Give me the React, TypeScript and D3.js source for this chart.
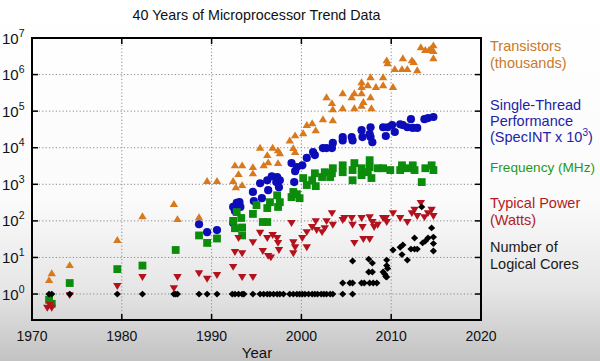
import React from "react";
import * as d3 from "d3";

type Pt = [number, number];

const transistors: Pt[] = [
  [1971.9, 2.4], [1972.2, 3.7], [1974.2, 6.2], [1979.5, 30], [1982.3, 134], [1985.8, 290], [1986.2, 112],
  [1988.6, 126], [1989.5, 1230], [1990.6, 1230], [1992.4, 1230], [1992.7, 830], [1992.6, 3300], [1993.4, 3300],
  [1993.0, 1900], [1993.4, 950], [1994.6, 2950], [1994.6, 2000], [1995.4, 10000], [1995.8, 3300], [1996.2, 6300],
  [1996.3, 4000], [1996.8, 10000], [1997.4, 8500], [1997.4, 3800], [1997.6, 7100], [1998.7, 15800], [1999.1, 9800],
  [1999.3, 21900], [1999.3, 7600], [2000.2, 25000], [2000.6, 42000], [2001.2, 47000], [2001.6, 30000],
  [2002.4, 60000], [2002.8, 240000], [2003.4, 166000], [2003.5, 112000], [2003.5, 56000], [2004.6, 310000],
  [2004.6, 120000], [2005.6, 240000], [2005.9, 310000], [2005.9, 120000], [2006.7, 457000], [2006.7, 617000],
  [2006.7, 310000], [2006.9, 178000], [2006.7, 140000], [2007.7, 850000], [2007.4, 513000], [2007.7, 240000],
  [2007.8, 120000], [2008.3, 457000], [2009.1, 850000], [2009.1, 513000], [2009.5, 2450000], [2009.6, 2040000],
  [2010.2, 457000], [2010.4, 1410000], [2011.2, 1410000], [2011.3, 2800000], [2011.8, 1410000],
  [2012.3, 2450000], [2012.5, 2200000], [2012.9, 1320000], [2013.3, 5600000], [2013.8, 4700000],
  [2014.2, 4700000], [2014.7, 6300000], [2014.7, 4400000], [2014.7, 2800000], [2014.4, 5000000],
];

const performance: Pt[] = [
  [1988.6, 81], [1989.5, 49], [1990.6, 56], [1992.4, 87], [1992.4, 240], [1992.6, 186], [1992.8, 309],
  [1993.1, 324], [1993.2, 240], [1994.6, 617], [1994.7, 347], [1995.6, 417], [1995.4, 1070], [1996.2, 1290],
  [1996.3, 692], [1996.7, 1660], [1997.3, 1580], [1997.6, 1290], [1997.5, 832], [1997.2, 1150], [1998.9, 3800],
  [1999.2, 1150], [1999.3, 2290], [1999.5, 2950], [2000.1, 3310], [2000.6, 5250], [2001.5, 6310], [2001.3, 7590],
  [2002.4, 9770], [2002.8, 9770], [2003.5, 13500], [2003.4, 9770], [2004.6, 19500], [2004.6, 15800],
  [2005.6, 19500], [2005.7, 15800], [2006.7, 30200], [2006.8, 19500], [2007.7, 36300], [2007.7, 19500],
  [2007.9, 14100], [2007.6, 23400], [2009.1, 36300], [2009.4, 20900], [2009.6, 36300], [2010.1, 41700],
  [2010.4, 26900], [2011.0, 43600], [2011.3, 41700], [2011.8, 36300], [2012.2, 60300], [2012.4, 34700],
  [2012.9, 34700], [2013.7, 60300], [2014.1, 64600], [2014.7, 69200],
];

const frequency: Pt[] = [
  [1971.9, 0.7], [1972.2, 0.54], [1974.2, 2], [1979.5, 4.8], [1982.3, 6], [1986.0, 16], [1988.6, 40],
  [1989.5, 25], [1990.6, 33], [1992.4, 100], [1992.6, 63], [1993.4, 66], [1993.4, 40], [1992.8, 174],
  [1993.3, 120], [1994.6, 155], [1995.0, 270], [1995.7, 93], [1996.2, 93], [1996.2, 224], [1996.5, 324],
  [1997.3, 500], [1997.4, 240], [1997.6, 324], [1998.9, 447], [1999.1, 617], [1999.5, 537], [1999.8, 417],
  [2000.2, 1480], [2000.6, 955], [2001.2, 1290], [2001.6, 890], [2001.5, 2000], [2002.3, 1580], [2002.6, 2140],
  [2003.4, 2000], [2003.5, 2750], [2003.2, 1580], [2004.6, 3310], [2004.6, 2140], [2005.7, 2450], [2005.7, 1290],
  [2005.9, 3800], [2006.7, 2750], [2006.7, 1780], [2007.6, 4570], [2007.6, 2950], [2007.8, 1480], [2007.4, 2140],
  [2008.5, 2750], [2009.1, 2750], [2009.9, 2450], [2011.0, 2450], [2011.2, 3310], [2011.8, 2750], [2012.4, 3310],
  [2012.6, 2450], [2013.4, 1150], [2013.8, 2750], [2014.5, 3310], [2014.7, 2450],
];

const power: Pt[] = [
  [1971.7, 0.42], [1972.2, 0.42], [1972.0, 0.5], [1974.2, 0.93], [1979.5, 1.66], [1982.3, 2.9], [1985.8, 1.45],
  [1986.2, 2.9], [1988.6, 3.7], [1989.5, 2.6], [1990.6, 3.3], [1992.4, 5.5], [1992.6, 14], [1993.0, 34],
  [1993.4, 13], [1993.4, 2.9], [1994.6, 2.9], [1994.6, 26], [1995.4, 47], [1995.7, 15], [1996.2, 34],
  [1996.3, 11], [1996.6, 10], [1996.8, 41], [1997.3, 34], [1997.4, 25], [1997.5, 16], [1998.9, 87],
  [1999.1, 26], [1999.3, 19], [1999.1, 13], [2000.1, 34], [2000.6, 49], [2000.6, 19], [2001.2, 68],
  [2001.6, 98], [2001.7, 56], [2002.3, 49], [2002.6, 63], [2002.8, 98], [2003.4, 162], [2003.5, 78],
  [2004.6, 105], [2004.8, 120], [2005.6, 120], [2005.7, 78], [2005.9, 25], [2006.7, 120], [2006.8, 68],
  [2006.9, 32], [2007.6, 32], [2007.6, 126], [2007.9, 93], [2008.1, 68], [2008.5, 78], [2009.1, 120],
  [2009.4, 120], [2009.5, 93], [2010.2, 162], [2011.0, 120], [2011.8, 93], [2012.3, 162], [2012.6, 200],
  [2012.9, 135], [2013.3, 309], [2013.7, 126], [2014.1, 162], [2014.5, 200], [2014.7, 135],
];

const cores: Pt[] = [
  [1971.9, 1], [1972.2, 1], [1974.2, 1], [1979.5, 1], [1982.3, 1], [1985.8, 1], [1986.0, 1], [1986.2, 1],
  [1988.6, 1], [1989.5, 1], [1990.6, 1], [1992.3, 1], [1992.6, 1], [1993.0, 1], [1993.4, 1], [1993.6, 1],
  [1994.6, 1], [1995.4, 1], [1995.8, 1], [1996.2, 1], [1996.5, 1], [1996.9, 1], [1997.3, 1], [1997.6, 1],
  [1998.0, 1], [1998.7, 1], [1999.1, 1], [1999.5, 1], [1999.8, 1], [2000.1, 1], [2000.4, 1], [2000.8, 1],
  [2001.2, 1], [2001.5, 1], [2001.8, 1], [2002.2, 1], [2002.5, 1], [2002.8, 1], [2003.2, 1], [2003.5, 1],
  [2004.6, 1], [2005.7, 1],
  [2004.6, 2], [2005.4, 2], [2005.7, 2], [2006.7, 2], [2007.0, 2], [2007.6, 2], [2008.0, 2], [2008.4, 2],
  [2007.5, 4], [2007.9, 4], [2009.1, 4], [2009.3, 3.5], [2009.4, 3], [2009.5, 2.9],
  [2005.7, 8], [2007.5, 9], [2007.9, 7], [2009.5, 8.5], [2009.5, 6], [2009.6, 5],
  [2010.2, 16], [2011.0, 19], [2011.3, 22], [2011.2, 12], [2011.8, 8.5], [2012.2, 17], [2012.6, 17],
  [2012.9, 17], [2012.6, 34], [2013.5, 25], [2013.8, 28], [2014.1, 34], [2014.5, 64], [2014.7, 36],
  [2014.7, 24], [2014.7, 15], [2013.4, 240],
];

const xTicks = [1970, 1980, 1990, 2000, 2010, 2020];
const yExps = [0, 1, 2, 3, 4, 5, 6, 7];

const FONT = "'Liberation Sans', Arial, Helvetica, sans-serif";

export default function App() {
  const W = 600, H = 361;
  const L = 32, R = 481, T = 38, B = 320;
  const x = d3.scaleLinear().domain([1970, 2020]).range([L, R]);
  const y = d3.scaleLog().domain([Math.pow(10, -0.71), 1e7]).range([B, T]);

  const triUp = (d: Pt) => {
    const cx = x(d[0]), cy = y(d[1]);
    return `M${cx},${cy - 3.9}L${cx + 4.2},${cy + 3}L${cx - 4.2},${cy + 3}Z`;
  };
  const triDown = (d: Pt) => {
    const cx = x(d[0]), cy = y(d[1]);
    return `M${cx},${cy + 3.9}L${cx + 4.2},${cy - 3}L${cx - 4.2},${cy - 3}Z`;
  };
  const diamond = (d: Pt) => {
    const cx = x(d[0]), cy = y(d[1]);
    return `M${cx},${cy - 3.4}L${cx + 3.6},${cy}L${cx},${cy + 3.4}L${cx - 3.6},${cy}Z`;
  };

  return (
    <svg width={W} height={H} style={{ position: "fixed", left: 0, top: 0 }} fontFamily={FONT}>
      <defs>
        <linearGradient id="bg" x1="0" y1="0" x2="0" y2="1">
          <stop offset="0" stopColor="#ffffff" />
          <stop offset="0.55" stopColor="#fbfbfb" />
          <stop offset="0.8" stopColor="#e6e6e6" />
          <stop offset="1" stopColor="#c2c2c2" />
        </linearGradient>
        <clipPath id="plot">
          <rect x={L} y={T} width={R - L} height={B - T} />
        </clipPath>
      </defs>
      <rect x={0} y={0} width={W} height={H} fill="url(#bg)" />

      <text x={256.5} y={20} fontSize={14.3} textAnchor="middle" fill="#111">
        40 Years of Microprocessor Trend Data
      </text>

      {/* grid */}
      <g stroke="#8a8a8a" strokeWidth={1} strokeDasharray="1.2,2.2">
        {xTicks.slice(1, -1).map((t) => (
          <line key={"gx" + t} x1={x(t)} x2={x(t)} y1={T} y2={B} />
        ))}
        {yExps.slice(0, -1).map((e) => (
          <line key={"gy" + e} x1={L} x2={R} y1={y(Math.pow(10, e))} y2={y(Math.pow(10, e))} />
        ))}
      </g>

      <g clipPath="url(#plot)">
        <g fill="#d9791c">
          {transistors.map((d, i) => <path key={"t" + i} d={triUp(d)} />)}
        </g>
        <g fill="#0c0cb8">
          {performance.map((d, i) => <circle key={"p" + i} cx={x(d[0])} cy={y(d[1])} r={4.1} />)}
        </g>
        <g fill="#0b8c0b">
          {frequency.map((d, i) => (
            <rect key={"f" + i} x={x(d[0]) - 3.9} y={y(d[1]) - 3.9} width={7.8} height={7.8} />
          ))}
        </g>
        <g fill="#b3121d">
          {power.map((d, i) => <path key={"w" + i} d={triDown(d)} />)}
        </g>
        <g fill="#000">
          {cores.map((d, i) => <path key={"c" + i} d={diamond(d)} />)}
        </g>
      </g>

      {/* ticks */}
      <g stroke="#000" strokeWidth={1.5}>
        {xTicks.map((t) => (
          <g key={"tx" + t}>
            <line x1={x(t)} x2={x(t)} y1={B} y2={B - 6} />
            <line x1={x(t)} x2={x(t)} y1={T} y2={T + 6} />
          </g>
        ))}
        {yExps.map((e) => (
          <g key={"ty" + e}>
            <line x1={L} x2={L + 6} y1={y(Math.pow(10, e))} y2={y(Math.pow(10, e))} />
            <line x1={R} x2={R - 6} y1={y(Math.pow(10, e))} y2={y(Math.pow(10, e))} />
          </g>
        ))}
      </g>
      <rect x={L} y={T} width={R - L} height={B - T} fill="none" stroke="#000" strokeWidth={2} />

      {/* tick labels */}
      {xTicks.map((t) => (
        <text key={"lx" + t} x={x(t)} y={341} fontSize={14} textAnchor="middle" fill="#111">
          {t}
        </text>
      ))}
      {yExps.map((e) => (
        <text key={"ly" + e} x={2} y={y(Math.pow(10, e)) + 5.5} fontSize={15} fill="#111">
          10
          <tspan fontSize={10.5} dy={-7}>{e}</tspan>
        </text>
      ))}
      <text x={257} y={358} fontSize={15} textAnchor="middle" fill="#111">Year</text>

      {/* legend */}
      <g fontSize={14.5}>
        <text x={490} y={51} fill="#c97a2a">Transistors</text>
        <text x={490} y={68} fill="#c97a2a">(thousands)</text>
        <text x={490} y={110} fill="#2323a8">Single-Thread</text>
        <text x={490} y={126} fill="#2323a8">Performance</text>
        <text x={490} y={142} fill="#2323a8">
          (SpecINT x 10<tspan fontSize={10} dy={-6}>3</tspan><tspan dy={6}>)</tspan>
        </text>
        <text x={490} y={172} fill="#1f9a1f" fontSize={13.6}>Frequency (MHz)</text>
        <text x={490} y={208} fill="#b01c24">Typical Power</text>
        <text x={490} y={225} fill="#b01c24">(Watts)</text>
        <text x={490} y={252} fill="#1a1a1a">Number of</text>
        <text x={490} y={269} fill="#1a1a1a">Logical Cores</text>
      </g>
    </svg>
  );
}
